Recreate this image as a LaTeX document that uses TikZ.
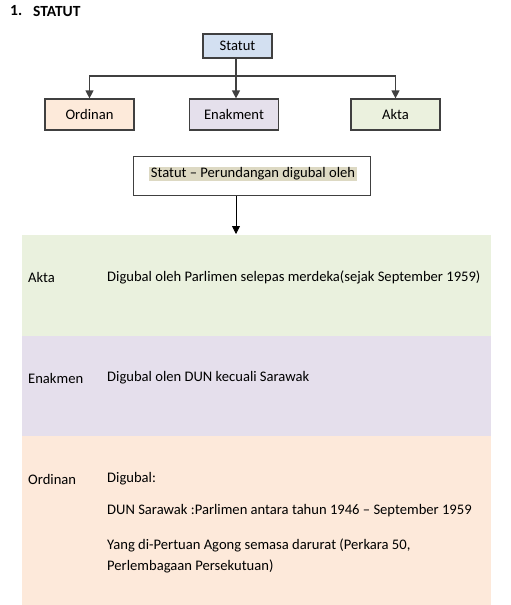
\documentclass[tikz,border=0pt]{standalone}
\usepackage{fontspec}
\setmainfont{Carlito}
\usetikzlibrary{positioning, arrows.meta}

\definecolor{biruS}{HTML}{D3E0F1}
\definecolor{oren}{HTML}{FDEADA}
\definecolor{ungu}{HTML}{E5E0EC}
\definecolor{hijau}{HTML}{EBF1DE}
\definecolor{jalurH}{HTML}{EAF1DE}
\definecolor{jalurU}{HTML}{E5DFEC}
\definecolor{jalurO}{HTML}{FDE9DA}
\definecolor{tanah}{HTML}{DDD9C3}
\definecolor{garis}{HTML}{404040}

\tikzset{
  kotak/.style={draw=garis, line width=1.2pt, minimum width=89pt, minimum height=31pt, inner sep=0pt},
  teks/.style={anchor=west, inner sep=0pt, font=\fontsize{14.6}{17.5}\selectfont},
}

\begin{document}
\begin{tikzpicture}[x=1pt, y=-1pt, >={Triangle[length=8pt, width=8pt]}, font=\fontsize{14.6}{17.5}\selectfont]
    \useasboundingbox (0,0) rectangle (511,605);

    % tajuk
    \node[teks, font=\fontsize{15.5}{18}\bfseries] (nombor) at (10,11) {1.};
    \node[teks, font=\fontsize{15.5}{18}\bfseries] (tajuk) at (33,11) {STATUT};

    % pokok statut
    \node[kotak, fill=biruS, minimum width=69pt, minimum height=24pt] (statut) at (237.5,46) {Statut};
    \node[kotak, fill=oren] (ordinan) at (89.5,114.5) {Ordinan};
    \node[kotak, fill=ungu] (enakment) at (234,114.5) {Enakment};
    \node[kotak, fill=hijau] (akta) at (395.5,114.5) {Akta};
    \coordinate (bar) at (236,76);

    \draw[garis, line width=1.2pt] (statut.south -| bar) -- (bar);
    \draw[->, garis, line width=1.2pt] (bar) -- (enakment.north -| bar);
    \draw[->, garis, line width=1.2pt] (bar) -| (ordinan.north);
    \draw[->, garis, line width=1.2pt] (bar) -| (akta.north);

    % kotak perundangan
    \node[draw=garis, line width=1pt, minimum width=237pt, minimum height=39pt] (judul) at (252,176) {};
    \node[fill=tanah, inner xsep=1.5pt, inner ysep=1pt] (judulteks) at (253,174) {Statut -- Perundangan digubal oleh};
    \coordinate (jalur) at (236,234);
    \draw[->, black, line width=0.8pt] (judul.south -| jalur) -- (jalur);

    % jalur warna
    \fill[jalurH] (22,235) rectangle (491,336);
    \fill[jalurU] (22,336) rectangle (491,436);
    \fill[jalurO] (22,436) rectangle (491,605);

    \node[teks] (lakta) at (28,277) {Akta};
    \node[teks] (dakta) at (107,277) {Digubal oleh Parlimen selepas merdeka(sejak September 1959)};
    \node[teks] (lenak) at (28,378) {Enakmen};
    \node[teks] (denak) at (107,378) {Digubal olen DUN kecuali Sarawak};
    \node[teks] (lordi) at (28,479) {Ordinan};
    \node[teks] (dordi1) at (107,479) {Digubal:};
    \node[teks] (dordi2) at (107,511) {DUN Sarawak :Parlimen antara tahun 1946 -- September 1959};
    \node[teks] (dordi3) at (107,545) {Yang di-Pertuan Agong semasa darurat (Perkara 50,};
    \node[teks] (dordi4) at (107,566) {Perlembagaan Persekutuan)};
\end{tikzpicture}
\end{document}
